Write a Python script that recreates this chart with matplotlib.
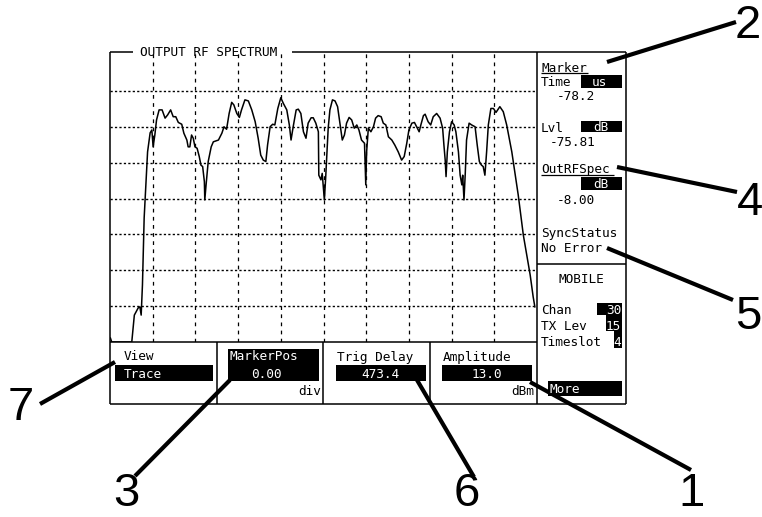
import matplotlib
matplotlib.use("Agg")
from matplotlib import pyplot as plt
from matplotlib.patches import Rectangle

# trace, in grid divisions (x: 0-10, y: 0-8 from bottom)
trace_x = [0.01, 0.04, 0.51, 0.57, 0.66, 0.70, 0.73, 0.76, 0.80, 0.84, 0.88, 0.94, 0.98, 1.01,
           1.05, 1.09, 1.15, 1.22, 1.29, 1.35, 1.42, 1.48, 1.54, 1.60, 1.68, 1.73, 1.80, 1.83,
           1.87, 1.91, 1.95, 1.99, 2.04, 2.09, 2.13, 2.17, 2.21, 2.22, 2.25, 2.30, 2.37, 2.42,
           2.54, 2.62, 2.67, 2.73, 2.79, 2.85, 2.90, 2.97, 3.03, 3.08, 3.16, 3.24, 3.32, 3.40,
           3.47, 3.53, 3.59, 3.65, 3.69, 3.75, 3.81, 3.86, 3.93, 4.00, 4.06, 4.14, 4.20, 4.24,
           4.29, 4.36, 4.41, 4.47, 4.53, 4.59, 4.64, 4.71, 4.76, 4.82, 4.88, 4.89, 4.94, 4.97,
           5.02, 5.05, 5.07, 5.11, 5.15, 5.21, 5.27, 5.33, 5.39, 5.44, 5.49, 5.54, 5.60, 5.66,
           5.72, 5.78, 5.83, 5.89, 5.96, 5.99, 6.01, 6.05, 6.11, 6.17, 6.22, 6.28, 6.35, 6.40,
           6.46, 6.52, 6.60, 6.67, 6.75, 6.83, 6.89, 6.95, 7.00, 7.07, 7.13, 7.18, 7.24, 7.28,
           7.34, 7.38, 7.45, 7.51, 7.57, 7.65, 7.73, 7.79, 7.82, 7.85, 7.87, 7.90, 7.95, 8.00,
           8.06, 8.10, 8.16, 8.20, 8.24, 8.26, 8.29, 8.32, 8.35, 8.41, 8.47, 8.55, 8.60, 8.65,
           8.70, 8.74, 8.78, 8.82, 8.86, 8.92, 8.98, 9.04, 9.13, 9.21, 9.29, 9.41, 9.56, 9.68,
           9.84, 9.91, 9.95]
trace_y = [0.11, 0.00, 0.00, 0.75, 0.95, 0.98, 0.75, 1.59, 3.46, 4.38, 5.30, 5.83, 5.91, 5.44,
           5.77, 6.19, 6.47, 6.47, 6.24, 6.33, 6.47, 6.28, 6.28, 6.12, 6.07, 5.82, 5.63, 5.44,
           5.44, 5.77, 5.68, 5.44, 5.40, 5.17, 4.93, 4.89, 4.47, 3.96, 4.38, 5.03, 5.44, 5.58,
           5.63, 5.82, 6.00, 5.93, 6.37, 6.68, 6.61, 6.37, 6.26, 6.47, 6.75, 6.72, 6.47, 6.14,
           5.68, 5.21, 5.07, 5.03, 5.49, 6.00, 6.07, 6.05, 6.51, 6.81, 6.65, 6.47, 6.05, 5.63,
           6.00, 6.47, 6.49, 6.37, 5.86, 5.68, 6.10, 6.25, 6.25, 6.10, 5.86, 4.65, 4.52, 4.70,
           3.96, 4.56, 5.03, 5.96, 6.47, 6.75, 6.72, 6.56, 6.05, 5.63, 5.77, 6.10, 6.26, 6.19,
           5.96, 6.05, 5.91, 5.63, 5.54, 4.38, 5.30, 5.96, 5.86, 6.00, 6.24, 6.31, 6.28, 6.10,
           6.05, 5.72, 5.63, 5.49, 5.30, 5.07, 5.17, 5.54, 5.91, 6.10, 6.12, 6.00, 5.86, 6.05,
           6.31, 6.35, 6.14, 6.05, 6.28, 6.37, 6.24, 5.96, 5.49, 5.07, 4.61, 5.30, 5.86, 6.14,
           6.05, 5.86, 5.30, 4.65, 4.38, 4.65, 3.96, 4.70, 5.63, 6.10, 6.05, 6.00, 5.49, 5.03,
           4.93, 4.89, 4.65, 5.30, 6.05, 6.51, 6.51, 6.40, 6.56, 6.42, 6.05, 5.30, 4.10, 2.98,
           1.87, 1.26, 0.98]

title = "OUTPUT RF SPECTRUM"
softkeys = ["View", "MarkerPos", "Trig Delay", "Amplitude"]
softkey_values = ["Trace", "0.00", "473.4", "13.0"]
softkey_units = ["", "div", "", "dBm"]
marker_time = "-78.2"
marker_lvl = "-75.81"
out_rf_spec = "-8.00"
sync_status = "No Error"
mobile_labels = ["Chan", "TX Lev", "Timeslot"]
mobile_values = ["30", "15", "4"]
callout_ids = ["1", "2", "3", "4", "5", "6", "7"]

W, H = 762, 517
fig = plt.figure(figsize=(W / 100, H / 100), dpi=100)

# graticule: 10 x 8 divisions, 110..537 px wide, 52..342 px tall
gx0, gx1, gy0, gy1 = 110, 537, 52, 342
ax = fig.add_axes([gx0 / W, 1 - gy1 / H, (gx1 - gx0) / W, (gy1 - gy0) / H])
div_h = 35.875
ax.set_xlim(0, 10)
ax.set_ylim(0, (gy1 - gy0) / div_h)
for i in range(1, 10):
    ax.axvline(i, color="black", lw=0.9, ls=(0, (3, 3.5)))
for j in range(1, 8):
    ax.axhline(j, color="black", lw=1.0, ls=(0, (1.6, 1.6)))
ax.plot(trace_x, trace_y, color="black", lw=1.1, solid_joinstyle="round", clip_on=True)
ax.set_xticks([])
ax.set_yticks([])
for s in ax.spines.values():
    s.set_visible(False)

# overlay in pixel coordinates for frame, text and callouts
ov = fig.add_axes([0, 0, 1, 1])
ov.set_xlim(0, W)
ov.set_ylim(H, 0)
ov.axis("off")

lw = 1.1
def line(x0, y0, x1, y1, w=lw):
    ov.plot([x0, x1], [y0, y1], color="black", lw=w, solid_capstyle="butt")

line(110, 52, 133, 52)
line(292, 52, 626, 52)
line(110, 52, 110, 404)
line(110, 342, 537, 342)
line(110, 404, 626, 404)
line(537, 52, 537, 404)
line(626, 52, 626, 404)
line(537, 264, 626, 264)
for xd in [217, 323, 430]:
    line(xd, 342, xd, 404)

mono = dict(family="DejaVu Sans Mono", fontsize=9.2, va="baseline")

def box(x0, y0, x1, y1):
    ov.add_patch(Rectangle((x0, y0), x1 - x0, y1 - y0, color="black", lw=0))

ov.text(140, 56, title, color="black", **mono)

# right panel
ov.text(541, 71.5, "Marker", **mono)
line(541, 73, 588, 73, 0.9)
ov.text(541, 86, "Time", **mono)
box(581, 74.5, 622, 87.5)
ov.text(599, 85.5, "us", color="white", ha="center", **mono)
ov.text(595, 99.5, marker_time, ha="right", **mono)
ov.text(541, 131.5, "Lvl", **mono)
box(581, 120.5, 622, 132)
ov.text(601, 131, "dB", color="white", ha="center", **mono)
ov.text(595, 145.5, marker_lvl, ha="right", **mono)
ov.text(541, 173, "OutRFSpec", **mono)
line(541, 175, 614, 175, 0.9)
box(581, 176.5, 622, 190)
ov.text(601, 188, "dB", color="white", ha="center", **mono)
ov.text(595, 204.5, out_rf_spec, ha="right", **mono)
ov.text(541, 237, "SyncStatus", **mono)
ov.text(541, 252, sync_status, **mono)
ov.text(581, 283, "MOBILE", ha="center", **mono)
lab_y = [314, 330, 346.5]
box_x = [597, 606, 614]
box_y = [(302.5, 314.5), (314.5, 330.5), (330.5, 348)]
for lab, val, yb, bx, (b0, b1) in zip(mobile_labels, mobile_values, lab_y, box_x, box_y):
    ov.text(541, yb, lab, **mono)
    box(bx, b0, 621.5, b1)
    ov.text(621, yb, val, color="white", ha="right", **mono)
box(548, 381, 621.5, 396)
ov.text(550, 393, "More", color="white", **mono)

# softkeys along the bottom
key_x = [124, 230, 337, 443]
for i, (k, v, u) in enumerate(zip(softkeys, softkey_values, softkey_units)):
    if i == 1:
        box(228, 349, 318.5, 381)
        ov.text(230, 360.5, k, color="white", **mono)
        ov.text(266, 378, v, color="white", ha="center", **mono)
    elif i == 0:
        ov.text(key_x[i], 360.5, k, **mono)
        box(114.5, 365, 212.5, 381)
        ov.text(124, 378, v, color="white", **mono)
    else:
        ov.text(key_x[i], 361, k, **mono)
        bx0 = key_x[i] - 1.5
        box(bx0, 365, bx0 + 90, 380.5)
        ov.text(bx0 + 45, 377.5, v, color="white", ha="center", **mono)
    if u:
        ov.text(key_x[i] + 91, 395, u, ha="right", **mono)

# numbered callouts: line start, line end, digit position
callouts = {
    "1": ((530, 382), (691, 470), (692, 516), "bottom"),
    "2": ((607, 62), (736, 22), (748, 38), "baseline"),
    "3": ((230, 380), (135, 476), (126, 516), "bottom"),
    "4": ((617, 167), (737, 192), (750, 215), "baseline"),
    "5": ((607, 248), (733, 300), (748, 329), "baseline"),
    "6": ((417, 380), (474, 477), (467, 516), "bottom"),
    "7": ((115, 362), (40, 404), (21, 420), "baseline"),
}
for cid in callout_ids:
    (x0, y0), (x1, y1), (tx, ty), va = callouts[cid]
    line(x0, y0, x1, y1, 3.0)
    ov.text(tx, ty, cid, ha="center", va=va, fontsize=34,
            family=["Liberation Sans Narrow", "Liberation Sans"])

fig.savefig("out.png", dpi=100, facecolor="white")
